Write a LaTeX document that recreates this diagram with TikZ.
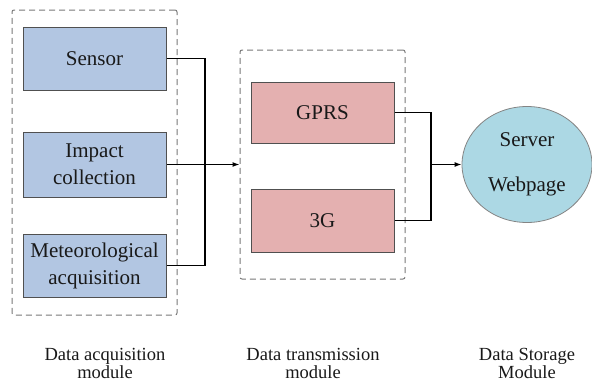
\documentclass[tikz,border=0pt]{standalone}
\usepackage{fontspec}
\newfontfamily\timesfont{Liberation Serif}
\usetikzlibrary{arrows.meta,shapes.geometric}
\definecolor{acqblue}{RGB}{178,198,226}
\definecolor{transpink}{RGB}{228,176,176}
\definecolor{storecyan}{RGB}{172,216,228}
\definecolor{edgegray}{RGB}{80,80,80}
\definecolor{dashgray}{RGB}{120,120,120}
\tikzset{
  unitbox/.style={draw=edgegray, line width=1pt, rectangle, minimum width=143pt,
    align=center, font=\timesfont\fontsize{21}{27}\selectfont, text=black!90, inner sep=0pt},
  modbox/.style={draw=dashgray, line width=1pt, dash pattern=on 6pt off 4pt, rounded corners=2pt},
  modlabel/.style={align=center, font=\timesfont\fontsize{18.5}{18}\selectfont, text=black!90},
  link/.style={line width=1.2pt, black}
}
\begin{document}
\begin{tikzpicture}[x=1pt,y=-1pt]
  \useasboundingbox (0,0) rectangle (592,383);
  % dashed module frames
  \node[modbox, minimum width=165pt, minimum height=305pt] (acqframe) at (94.5,162.5) {};
  \node[modbox, minimum width=165pt, minimum height=229pt] (transframe) at (322.5,164.5) {};
  % acquisition units
  \node[unitbox, fill=acqblue, minimum height=63pt] (sensor) at (94.5,58.5) {Sensor};
  \node[unitbox, fill=acqblue, minimum height=65pt] (impact) at (94.5,164.5) {Impact\\collection};
  \node[unitbox, fill=acqblue, minimum height=63pt] (meteo) at (94.5,265.5) {Meteorological\\acquisition};
  % transmission units
  \node[unitbox, fill=transpink, minimum height=61pt] (gprs) at (322.5,112.5) {GPRS};
  \node[unitbox, fill=transpink, minimum height=63pt] (threeg) at (322.5,220.5) {3G};
  % storage
  \node[ellipse, draw=edgegray!70, line width=0.8pt, fill=storecyan, minimum width=130pt,
    minimum height=116pt, align=center, font=\timesfont\fontsize{21}{45}\selectfont, text=black!90]
    (server) at (527,164.5) {Server\\Webpage};
  % junctions
  \coordinate (jleft) at (205,164.5);
  \coordinate (jright) at (431,164.5);
  \draw[link] (sensor.east) -- (sensor.east -| jleft) |- (meteo.east);
  \draw[link, -{Latex[length=7pt,width=5pt]}] (impact.east) -- (transframe.west);
  \draw[link] (gprs.east) -- (gprs.east -| jright) |- (threeg.east);
  \draw[link, -{Latex[length=7pt,width=5pt]}] (jright) -- (server.west);
  % module captions
  \node[modlabel] (acqlabel) at (105,363) {Data acquisition\\module};
  \node[modlabel] (translabel) at (313,363) {Data transmission\\module};
  \node[modlabel] (storelabel) at (527,363) {Data Storage\\Module};
\end{tikzpicture}
\end{document}
